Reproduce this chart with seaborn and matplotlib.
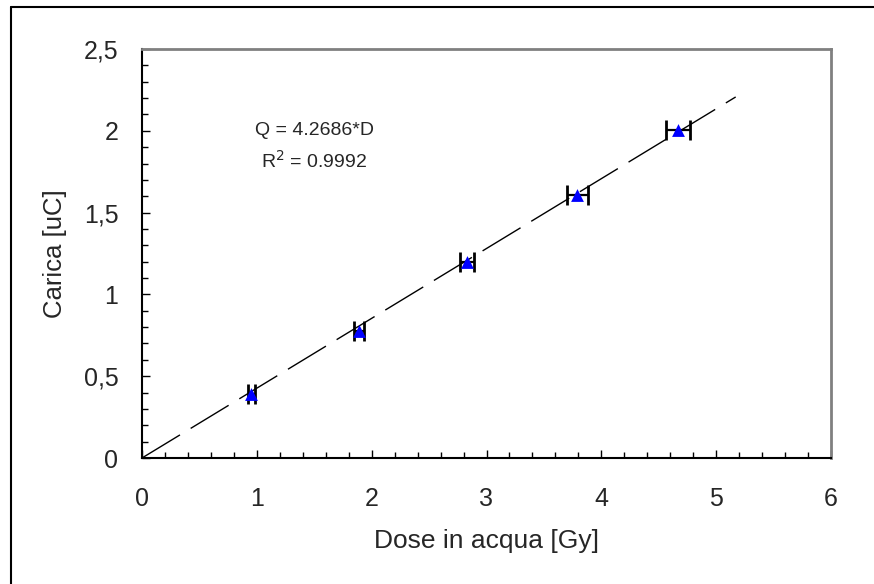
import numpy as np
import seaborn as sns
import matplotlib.pyplot as plt
from matplotlib.ticker import MultipleLocator, FuncFormatter
from matplotlib.lines import Line2D

sns.set_style("white")
plt.rcParams['font.family'] = ['Liberation Sans', 'DejaVu Sans']

# dati
dose = [0.95, 1.89, 2.83, 3.79, 4.67]          # Gy
carica = [0.39, 0.776, 1.20, 1.61, 2.005]       # uC
dose_err = [0.03, 0.045, 0.065, 0.09, 0.105]
slope = 0.42686
fit_x = [0.0, 5.17]
eq_text = "Q = 4.2686*D"
r2_text = "R$^2$ = 0.9992"

fig = plt.figure(figsize=(8.74, 5.84), dpi=100)
ax = fig.add_axes([142 / 874, 126 / 584, 689 / 874, 409 / 584])

# retta di tendenza
fx = np.array(fit_x)
ax.plot(fx, slope * fx, color='black', lw=1, dashes=(32, 9), zorder=2)

# barre d'errore
ax.errorbar(dose, carica, xerr=dose_err, fmt='none', ecolor='black',
            elinewidth=1.6, capsize=7.5, capthick=2, zorder=3)

# punti
sns.scatterplot(x=dose, y=carica, marker='^', color='#0000ff', s=85,
                edgecolor='#0000ff', linewidth=0, ax=ax, zorder=4)

ax.set_xlim(0, 6)
ax.set_ylim(0, 2.5)
ax.xaxis.set_major_locator(MultipleLocator(1))
ax.xaxis.set_minor_locator(MultipleLocator(0.2))
ax.yaxis.set_major_locator(MultipleLocator(0.5))
ax.yaxis.set_minor_locator(MultipleLocator(0.1))
fmt = FuncFormatter(lambda v, p: f"{v:g}".replace('.', ','))
ax.xaxis.set_major_formatter(fmt)
ax.yaxis.set_major_formatter(fmt)

ax.tick_params(which='major', direction='in', length=6, width=1, labelsize=18,
               color='black')
ax.tick_params(which='minor', direction='in', length=4, width=1, color='black')
ax.tick_params(axis='x', which='major', pad=21)
ax.tick_params(axis='y', which='major', pad=17)
ax.tick_params(axis='x', which='both', bottom=True, top=False)
ax.tick_params(axis='y', which='both', left=True, right=False)

for side in ['left', 'bottom']:
    ax.spines[side].set_color('black')
    ax.spines[side].set_linewidth(1.5)
for side in ['top', 'right']:
    ax.spines[side].set_color('#808080')
    ax.spines[side].set_linewidth(2)

ax.set_xlabel("Dose in acqua [Gy]", fontsize=19, labelpad=13)
ax.set_ylabel("Carica [uC]", fontsize=18.5, labelpad=12)

ax.text(1.5, 2.0, eq_text, ha='center', va='center', fontsize=14)
ax.text(1.5, 1.815, r2_text, ha='center', va='center', fontsize=14)

# bordo del grafico (solo lati superiore e sinistro visibili)
fig.add_artist(Line2D([11 / 874, 11 / 874], [0, 1 - 7 / 584],
                      transform=fig.transFigure, color='black', lw=1.5))
fig.add_artist(Line2D([11 / 874, 1], [1 - 7 / 584, 1 - 7 / 584],
                      transform=fig.transFigure, color='black', lw=1.5))

fig.savefig('out.png', dpi=100)
